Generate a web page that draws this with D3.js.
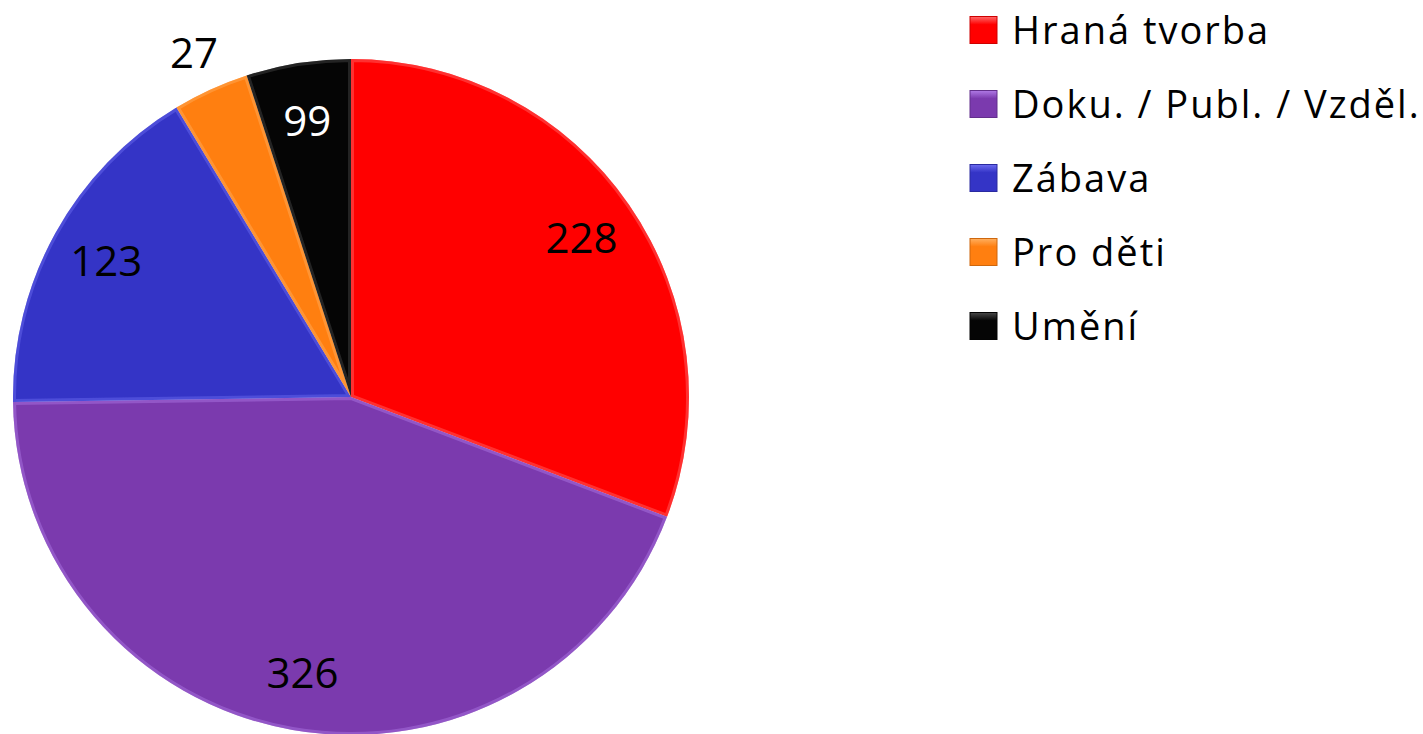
<!DOCTYPE html>
<html>
<head>
<meta charset="utf-8">
<script src="https://cdn.jsdelivr.net/npm/d3@7"></script>
<style>
  html, body { margin: 0; padding: 0; background: #fff; }
  #chart { width: 1423px; height: 734px; overflow: hidden; }
  text { font-family: "Open Sans", sans-serif; }
</style>
</head>
<body>
<div id="chart"></div>
<script>
// data
const categories = ["Hraná tvorba", "Doku. / Publ. / Vzděl.", "Zábava", "Pro děti", "Umění"];
// slice sizes as drawn (the black slice is printed "99" but drawn ~37)
const values = [228, 326, 123, 27, 37];
const valueLabels = ["228", "326", "123", "27", "99"];
const colors = ["#ff0000", "#7b3aae", "#3434c6", "#ff7f10", "#050505"];
const highlights = ["#ff6a6a", "#b07ae6", "#6c6cf0", "#ffb060", "#4a4a4a"];
const labelColors = ["#000", "#000", "#000", "#000", "#fff"];

function drawChart() {
  d3.select("#chart").html("");

  const width = 1423, height = 734;
  const cx = 351, cy = 397, radius = 338;

  const svg = d3.select("#chart")
    .append("svg")
    .attr("width", width)
    .attr("height", height);

  const defs = svg.append("defs");

  const dataset = categories.map((c, i) => ({
    name: c, value: values[i], label: valueLabels[i],
    color: colors[i], light: highlights[i], textColor: labelColors[i]
  }));

  const pie = d3.pie().sort(null).value(d => d.value);
  const arcs = pie(dataset);

  const arc = d3.arc().innerRadius(0).outerRadius(radius);
  const labelArc = d3.arc().innerRadius(280).outerRadius(280);
  const outerLabelArc = d3.arc().innerRadius(378).outerRadius(378);

  const g = svg.append("g")
    .attr("transform", `translate(${cx}, ${cy})`);

  // clip paths so the bevel stroke stays inside each slice
  arcs.forEach((a, i) => {
    defs.append("clipPath")
      .attr("id", "clip" + i)
      .append("path")
      .attr("d", arc(a));
  });

  g.selectAll(".slice")
    .data(arcs)
    .enter()
    .append("path")
    .attr("class", "slice")
    .attr("d", arc)
    .attr("fill", d => d.data.color);

  // soft bevel along the edges
  g.selectAll(".bevel")
    .data(arcs)
    .enter()
    .append("path")
    .attr("class", "bevel")
    .attr("d", arc)
    .attr("clip-path", (d, i) => `url(#clip${i})`)
    .attr("fill", "none")
    .attr("stroke", d => d.data.light)
    .attr("stroke-width", 6)
    .attr("stroke-opacity", 0.45);

  // value labels
  g.selectAll(".label")
    .data(arcs)
    .enter()
    .append("text")
    .attr("class", "label")
    .attr("transform", d => {
      const p = d.data.name === "Pro děti" ? outerLabelArc.centroid(d) : labelArc.centroid(d);
      return `translate(${p[0]}, ${p[1]})`;
    })
    .attr("text-anchor", "middle")
    .attr("dy", "0.36em")
    .style("font-size", "42px")
    .style("fill", d => d.data.textColor)
    .text(d => d.data.label);

  // legend
  const legend = svg.append("g")
    .attr("transform", "translate(970, 30)");

  defs.selectAll(".lg")
    .data(dataset)
    .enter()
    .append("linearGradient")
    .attr("id", (d, i) => "lg" + i)
    .attr("x1", 0).attr("y1", 0).attr("x2", 0).attr("y2", 1)
    .each(function(d) {
      d3.select(this).append("stop").attr("offset", "0%").attr("stop-color", d.light);
      d3.select(this).append("stop").attr("offset", "30%").attr("stop-color", d.color);
      d3.select(this).append("stop").attr("offset", "100%").attr("stop-color", d.color);
    });

  const items = legend.selectAll(".legend-item")
    .data(dataset)
    .enter()
    .append("g")
    .attr("class", "legend-item")
    .attr("transform", (d, i) => `translate(0, ${i * 74})`);

  items.append("rect")
    .attr("x", 0)
    .attr("y", -13.5)
    .attr("width", 27)
    .attr("height", 27)
    .attr("fill", (d, i) => `url(#lg${i})`)
    .attr("stroke", d => d3.color(d.color).darker(0.6))
    .attr("stroke-width", 1);

  items.append("text")
    .attr("x", 42)
    .attr("y", 0)
    .attr("dy", "0.36em")
    .style("font-size", "38px")
    .style("letter-spacing", "2px")
    .style("fill", "#000")
    .text(d => d.name);
}

drawChart();
</script>
</body>
</html>
